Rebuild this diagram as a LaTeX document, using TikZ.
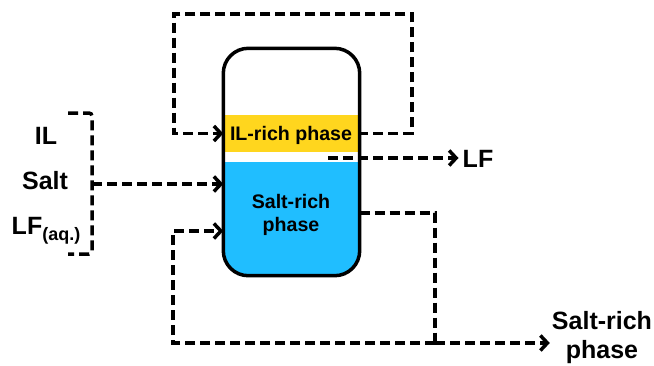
\documentclass[tikz,border=0pt]{standalone}
\usepackage{fontspec}
\setmainfont{Liberation Sans}
\usetikzlibrary{arrows.meta}
\definecolor{ilyellow}{RGB}{255,214,30}
\definecolor{saltblue}{RGB}{32,190,255}
\begin{document}
\begin{tikzpicture}[x=1pt,y=-1pt,
  flowline/.style={line width=3.5pt, dash pattern=on 10pt off 5pt},
  flow/.style={flowline, -{Straight Barb[length=7pt,width=15pt,line width=3.5pt]}},
  big/.style={font=\fontsize{25}{29}\selectfont\bfseries, inner sep=0pt, align=center},
  inner/.style={font=\fontsize{19.6}{23}\selectfont\bfseries, inner sep=0pt, align=center}]
\useasboundingbox (0,0) rectangle (654,365);
% vessel
\node[minimum width=136pt, minimum height=227pt, inner sep=0pt] (vessel) at (291.5,162) {};
\begin{scope}
  \clip (200,162) rectangle (380,300);
  \fill[saltblue, rounded corners=25pt] (vessel.south west) rectangle (vessel.north east);
\end{scope}
\node[fill=ilyellow, minimum width=133pt, minimum height=37pt, inner sep=0pt] (ilband) at (291.5,133.5) {};
\draw[line width=3.5pt, rounded corners=25pt] (vessel.south west) rectangle (vessel.north east);
\node[inner, anchor=base] (ilrich) at (291,140) {IL-rich phase};
\node[inner] (saltrich) at (291,215) {Salt-rich\\phase};
% labels
\node[big, anchor=base] (il) at (46,144) {IL};
\node[big, anchor=base] (salt) at (45,189) {Salt};
\node[big, anchor=base] (lfaq) at (46,234) {LF\raisebox{-6pt}{\fontsize{18}{20}\selectfont(aq.)}};
\node[big, anchor=base] (lf) at (478,167) {LF};
\node[big, anchor=north] (saltout) at (602,311) {Salt-rich\\phase};
% coordinates
\coordinate (brk) at (92,184);
\coordinate (lfstart) at (328,158);
\coordinate (junc) at (435,343);
% feed bracket
\draw[flowline, rounded corners=3pt] (68,113) -- (92,113) -- (92,254) -- (68,254);
\draw[flow] (brk) -- (vessel.west |- brk);
% top recycle loop
\draw[flow] (ilband.east) -- (412,133.5) -- (412,14) -- (174,14) -- (174,133.5) -- (vessel.west |- ilband.center);
% LF outlet
\draw[flow] (lfstart) -- ([xshift=-4pt]lf.west |- lfstart);
% salt-rich outlet
\draw[flowline] (vessel.east |- 0,213) -- (junc |- 0,213) -- (junc);
\draw[flow] (junc) -- ([xshift=-2pt]saltout.west |- junc);
\draw[flow] (junc) -- (173,343) -- (173,231) -- (vessel.west |- 0,231);
\end{tikzpicture}
\end{document}
